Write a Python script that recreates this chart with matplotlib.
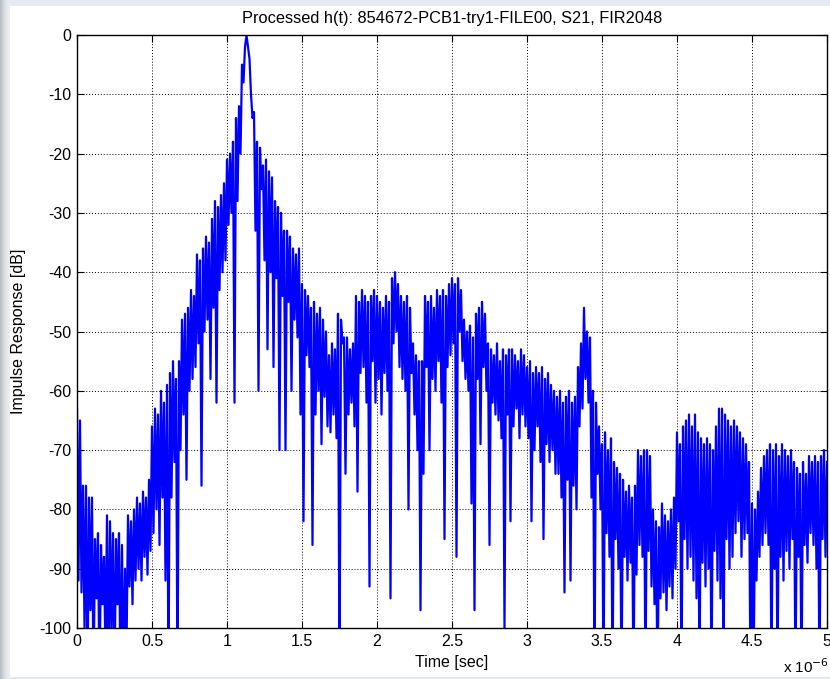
import numpy as np
import matplotlib
matplotlib.use('Agg')
import matplotlib.pyplot as plt
import matplotlib.ticker as ticker
from matplotlib.patches import Rectangle

# sample step of the read-off curve (seconds)
dt = 1e-8

# impulse response in dB, 10 samples per 0.1 us
h_db = [
    -63, -92, -65, -94, -76, -100, -76, -110, -78, -97,
    -78, -110, -85, -95, -84, -110, -86, -96, -88, -105,
    -81, -110, -82, -100, -84, -110, -85, -96, -84, -110,
    -86, -110, -90, -104, -81, -93, -82, -96, -80, -92,
    -78, -90, -79, -92, -77, -88, -78, -91, -75, -87,
    -66, -84, -63, -80, -64, -86, -60, -78, -62, -92,
    -59, -110, -57, -78, -55, -72, -58, -110, -55, -70,
    -48, -64, -47, -75, -46, -60, -43, -58, -44, -56,
    -37, -52, -38, -76, -36, -50, -34, -48, -35, -58,
    -31, -46, -28, -62, -29, -43, -27, -40, -25, -38,
    -21, -32, -20, -30, -18, -62, -14, -28, -12, -20,
    -5, -8, -2, 0, -2, -4, -10, -14, -13, -33,
    -18, -60, -19, -26, -22, -38, -21, -53, -23, -40,
    -24, -56, -28, -41, -29, -70, -30, -44, -33, -70,
    -33, -45, -34, -60, -36, -48, -37, -51, -36, -64,
    -42, -82, -43, -54, -44, -56, -46, -86, -45, -64,
    -47, -60, -46, -69, -48, -61, -50, -66, -54, -67,
    -52, -64, -53, -68, -47, -110, -48, -52, -51, -74,
    -51, -64, -53, -62, -52, -66, -44, -77, -45, -57,
    -43, -56, -44, -62, -45, -93, -44, -55, -43, -62,
    -44, -58, -45, -64, -46, -57, -44, -60, -45, -95,
    -41, -52, -40, -50, -42, -56, -44, -58, -45, -60,
    -44, -80, -46, -57, -52, -64, -54, -70, -55, -97,
    -55, -74, -44, -56, -45, -70, -44, -58, -46, -60,
    -43, -55, -44, -62, -43, -85, -44, -56, -42, -54,
    -41, -52, -42, -88, -41, -50, -43, -55, -48, -58,
    -50, -60, -49, -79, -51, -97, -47, -58, -46, -69,
    -45, -56, -47, -60, -52, -86, -53, -62, -54, -64,
    -52, -65, -55, -68, -53, -100, -54, -64, -53, -82,
    -53, -66, -54, -63, -55, -68, -53, -64, -54, -66,
    -56, -68, -55, -82, -57, -70, -56, -66, -57, -72,
    -56, -85, -58, -69, -57, -72, -59, -70, -60, -74,
    -61, -74, -60, -78, -62, -94, -61, -75, -60, -92,
    -62, -76, -61, -80, -56, -66, -52, -63, -46, -58,
    -50, -62, -51, -78, -60, -110, -62, -74, -66, -80,
    -69, -110, -67, -84, -70, -88, -68, -110, -72, -85,
    -73, -90, -74, -110, -75, -88, -77, -92, -76, -89,
    -78, -110, -76, -91, -70, -86, -71, -88, -70, -110,
    -70, -87, -71, -93, -80, -96, -82, -110, -83, -95,
    -79, -94, -81, -97, -82, -93, -80, -95, -78, -90,
    -67, -82, -69, -110, -66, -85, -65, -90, -64, -88,
    -66, -92, -64, -95, -67, -110, -68, -89, -69, -93,
    -68, -90, -69, -110, -70, -87, -66, -92, -63, -95,
    -63, -110, -64, -85, -65, -90, -66, -88, -65, -84,
    -66, -82, -67, -88, -68, -85, -69, -84, -72, -110,
    -79, -110, -80, -92, -77, -88, -73, -86, -71, -84,
    -70, -86, -69, -110, -70, -90, -69, -110, -71, -88,
    -69, -92, -70, -87, -71, -90, -70, -85, -72, -110,
    -73, -88, -74, -110, -72, -86, -74, -89, -71, -84,
    -72, -86, -71, -90, -72, -110, -71, -85, -70, -88,
    -72,
]
t = np.arange(len(h_db)) * dt

xticks = [0, 0.5e-6, 1e-6, 1.5e-6, 2e-6, 2.5e-6, 3e-6, 3.5e-6, 4e-6, 4.5e-6, 5e-6]
yticks = [0, -10, -20, -30, -40, -50, -60, -70, -80, -90, -100]

plt.rcParams['font.family'] = ['Liberation Sans', 'DejaVu Sans']

W, H = 830, 679
fig = plt.figure(figsize=(W / 100, H / 100), dpi=100, facecolor='white')

# window frame around the figure
fig.patches.append(Rectangle((0, 1 - 6 / H), 1, 6 / H, transform=fig.transFigure,
                             facecolor='#e7eaf3', edgecolor='none', zorder=0))
fig.patches.append(Rectangle((0, 0), 1, 2 / H, transform=fig.transFigure,
                             facecolor='#e4e7ec', edgecolor='none', zorder=0))
for k, c in enumerate(['#b9bdc2', '#c3c7cc', '#cbcfd4', '#d2d6db', '#d8dce1',
                       '#dde1e6', '#e1e5ea', '#e5e8ed', '#e8ebf0', '#ebedf2']):
    fig.patches.append(Rectangle((k / W, 0), 1 / W, 1, transform=fig.transFigure,
                                 facecolor=c, edgecolor='none', zorder=0))

ax = fig.add_axes([77 / W, 1 - 628 / H, 750 / W, 593 / H])
ax.plot(t, h_db, color='#0000ff', lw=1.6)

ax.set_xlim(0, 5e-6)
ax.set_ylim(-100, 0)
ax.set_xticks(xticks)
ax.set_yticks(yticks)
ax.xaxis.set_major_formatter(ticker.FuncFormatter(lambda v, p: '%g' % round(v * 1e6, 3)))
ax.yaxis.set_major_formatter(ticker.FuncFormatter(lambda v, p: '%g' % v))
ax.tick_params(direction='in', length=5, width=0.8, top=True, right=True,
               labelsize=11.5, pad=4, colors='black')
ax.grid(True, color='black', linestyle=(0, (1, 2)), linewidth=0.7)
for s in ax.spines.values():
    s.set_linewidth(1.0)

ax.set_title('Processed h(t): 854672-PCB1-try1-FILE00, S21, FIR2048', fontsize=11.8, pad=9)
ax.set_xlabel('Time [sec]', fontsize=11.5, labelpad=5)
ax.set_ylabel('Impulse Response [dB]', fontsize=11.5, labelpad=10)
# exponent label of the time axis, as MATLAB puts it
fig.text(783 / W, 1 - 667 / H, r'x 10$^{-6}$', fontsize=11, va='center', ha='left')

fig.savefig('out.png', dpi=100, facecolor=fig.get_facecolor())
